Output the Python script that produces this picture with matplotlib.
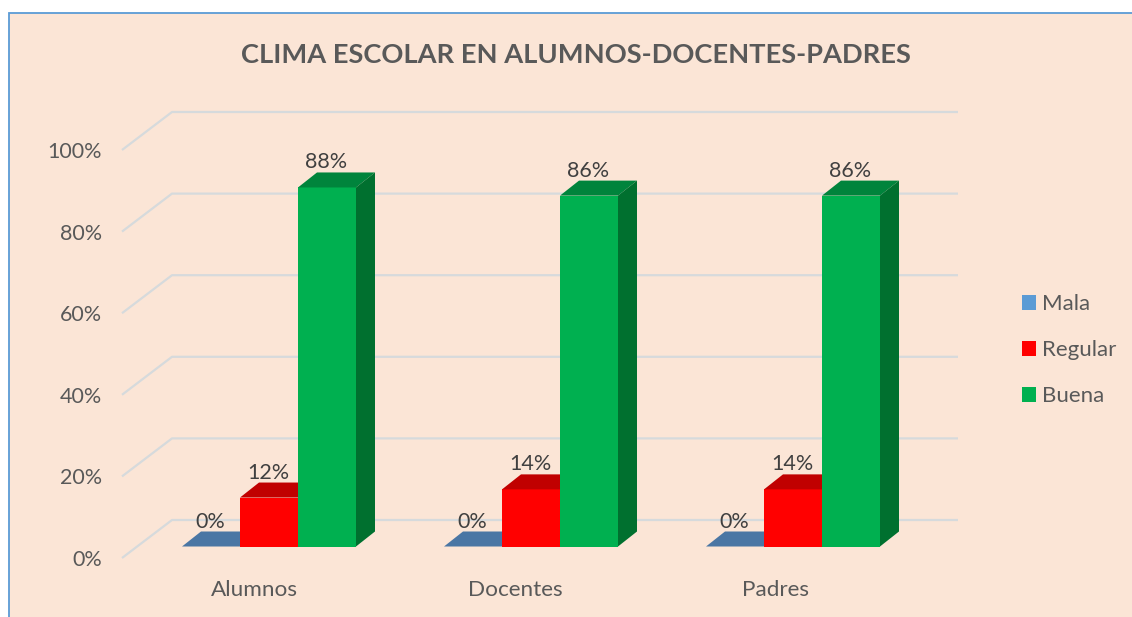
import matplotlib
matplotlib.use('Agg')
import matplotlib.pyplot as plt
from matplotlib.patches import Rectangle

categories = ['Alumnos', 'Docentes', 'Padres']
series_names = ['Mala', 'Regular', 'Buena']
mala = [0, 0, 0]
regular = [12, 14, 14]
buena = [88, 86, 86]
y_ticks = [0, 20, 40, 60, 80, 100]

W, H = 1132, 617
BG = '#fbe5d6'
TXT = '#595959'
front_cols = ['#5b9bd5', '#ff0000', '#00b050']
top_cols = ['#4a76a4', '#c00000', '#00843c']
side_cols = ['#3f6e99', '#a00000', '#00702f']

plt.rcParams['font.family'] = ['Lato', 'DejaVu Sans']

fig = plt.figure(figsize=(W / 100, H / 100), dpi=100, facecolor='white')
# background runs off the right and bottom edges, so only left and top border show
fig.add_artist(Rectangle((8.5 / W, -0.1), 1.1, 1.1 - 13 / H, transform=fig.transFigure,
                         facecolor=BG, edgecolor='#5b9bd5', linewidth=1.3, zorder=-5))

# axes box = front plane of the fake 3d floor/wall
ax = fig.add_axes([122 / W, (H - 558) / H, (958 - 122) / W, 408 / H])
ax.patch.set_visible(False)
px_x = 262.0  # pixels per category
px_y = 4.08   # pixels per percent
x0 = (269 - 122) / px_x
ax.set_xlim(-x0, (958 - 122) / px_x - x0)
ax.set_ylim(0, 100)
for s in ax.spines.values():
    s.set_visible(False)

bar_w = 58 / px_x
floor_up = 11.5 / px_y     # bars stand a bit behind the front plane
depth_x = 19 / px_x
depth_y = 15 / px_y
wall_x = 50 / px_x
wall_y = 38 / px_y
right = ax.get_xlim()[1]

for t in y_ticks:
    ax.plot([-x0, -x0 + wall_x, right], [t, t + wall_y, t + wall_y], color='#d6dadc', lw=1.6,
            clip_on=False, zorder=1, solid_capstyle='butt')

for i, vals in enumerate([mala, regular, buena]):
    for c, v in enumerate(vals):
        x = c + (i - 1) * bar_w
        l, r = x - bar_w / 2, x + bar_w / 2
        b = floor_up
        ax.bar(x, v, bar_w, bottom=b, color=front_cols[i], zorder=3 + i, clip_on=False,
               label=series_names[i] if c == 0 else None)
        ax.fill([l, r, r + depth_x, l + depth_x], [b + v, b + v, b + v + depth_y, b + v + depth_y],
                color=top_cols[i], lw=0, zorder=3 + i, clip_on=False)
        ax.fill([r, r + depth_x, r + depth_x, r], [b, b + depth_y, b + v + depth_y, b + v],
                color=side_cols[i], lw=0, zorder=3 + i, clip_on=False)
        ax.annotate('%d%%' % v, (x, b + v + depth_y), xytext=(-0.5, 0), textcoords='offset points',
                    ha='center', va='bottom', fontsize=15.5, color='#404040', zorder=10)

ax.set_yticks(y_ticks, ['%d%%' % t for t in y_ticks])
ax.set_xticks([c * 261 / px_x - 15 / px_x for c in range(3)], categories)
ax.tick_params(axis='y', length=0, labelsize=15.5, labelcolor=TXT, pad=14.5)
ax.tick_params(axis='x', length=0, labelsize=16.2, labelcolor=TXT, pad=15.5)

fig.text(576 / W, 1 - 55 / H, 'CLIMA ESCOLAR EN ALUMNOS-DOCENTES-PADRES', ha='center', va='center',
         fontsize=19.6, fontweight='bold', color=TXT)

leg = ax.legend(loc='center left', bbox_to_anchor=(1022 / W, 1 - 350.5 / H), bbox_transform=fig.transFigure,
                frameon=False, fontsize=16, labelcolor=TXT, handlelength=0.63, handleheight=0.63,
                handletextpad=0.27, labelspacing=1.17, borderpad=0, borderaxespad=0)

plt.savefig('out.png', dpi=100, facecolor='white')
